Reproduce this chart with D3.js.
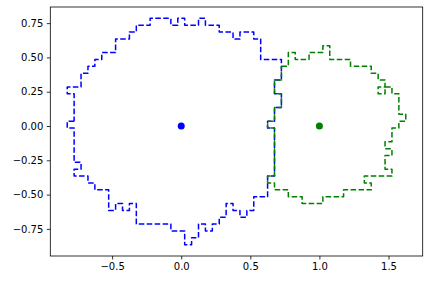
<!DOCTYPE html>
<html>
<head>
<meta charset="utf-8">
<script src="https://cdn.jsdelivr.net/npm/d3@7"></script>
<style>
  body { margin: 0; background: #fff; }
  svg text { font-family: "DejaVu Sans", sans-serif; font-size: 10px; fill: #000; }
</style>
</head>
<body>
<div id="chart"></div>
<script>
// step-shaped outlines (data units)
var blueOutline = [
  [-0.775, 0.035], [-0.825, 0.035], [-0.825, -0.015], [-0.775, -0.015],
  [-0.775, -0.265], [-0.725, -0.265], [-0.725, -0.315], [-0.775, -0.315],
  [-0.775, -0.365], [-0.675, -0.365], [-0.675, -0.415], [-0.625, -0.415],
  [-0.625, -0.465], [-0.525, -0.465], [-0.525, -0.615], [-0.475, -0.615],
  [-0.475, -0.565], [-0.425, -0.565], [-0.425, -0.615], [-0.375, -0.615],
  [-0.375, -0.565], [-0.325, -0.565], [-0.325, -0.715], [-0.075, -0.715],
  [-0.075, -0.765], [0.025, -0.765], [0.025, -0.865], [0.075, -0.865],
  [0.075, -0.815], [0.125, -0.815], [0.125, -0.715], [0.175, -0.715],
  [0.175, -0.765], [0.225, -0.765], [0.225, -0.715], [0.275, -0.715],
  [0.275, -0.665], [0.325, -0.665], [0.325, -0.565], [0.375, -0.565],
  [0.375, -0.615], [0.425, -0.615], [0.425, -0.665], [0.475, -0.665],
  [0.475, -0.615], [0.525, -0.615], [0.525, -0.515], [0.625, -0.515],
  [0.625, -0.365], [0.675, -0.365], [0.675, -0.015], [0.625, -0.015],
  [0.625, 0.035], [0.675, 0.035], [0.675, 0.135], [0.725, 0.135],
  [0.725, 0.235], [0.675, 0.235], [0.675, 0.335], [0.725, 0.335],
  [0.725, 0.485], [0.575, 0.485], [0.575, 0.635], [0.525, 0.635],
  [0.525, 0.685], [0.425, 0.685], [0.425, 0.635], [0.375, 0.635],
  [0.375, 0.685], [0.275, 0.685], [0.275, 0.735], [0.175, 0.735],
  [0.175, 0.785], [0.125, 0.785], [0.125, 0.735], [0.025, 0.735],
  [0.025, 0.785], [-0.025, 0.785], [-0.025, 0.735], [-0.075, 0.735],
  [-0.075, 0.785], [-0.225, 0.785], [-0.225, 0.735], [-0.325, 0.735],
  [-0.325, 0.685], [-0.375, 0.685], [-0.375, 0.635], [-0.475, 0.635],
  [-0.475, 0.535], [-0.575, 0.535], [-0.575, 0.485], [-0.625, 0.485],
  [-0.625, 0.435], [-0.675, 0.435], [-0.675, 0.385], [-0.725, 0.385],
  [-0.725, 0.285], [-0.825, 0.285], [-0.825, 0.235], [-0.775, 0.235],
  [-0.775, 0.035]
];

var greenOutline = [
  [0.725, 0.435], [0.775, 0.435], [0.775, 0.535], [0.825, 0.535],
  [0.825, 0.485], [0.925, 0.485], [0.925, 0.535], [1.025, 0.535],
  [1.025, 0.585], [1.075, 0.585], [1.075, 0.485], [1.225, 0.485],
  [1.225, 0.435], [1.375, 0.435], [1.375, 0.385], [1.425, 0.385],
  [1.425, 0.335], [1.475, 0.335], [1.475, 0.285], [1.425, 0.285],
  [1.425, 0.235], [1.475, 0.235], [1.475, 0.285], [1.525, 0.285],
  [1.525, 0.235], [1.575, 0.235], [1.575, 0.085], [1.625, 0.085],
  [1.625, 0.035], [1.575, 0.035], [1.575, -0.015], [1.525, -0.015],
  [1.525, -0.115], [1.475, -0.115], [1.475, -0.165], [1.525, -0.165],
  [1.525, -0.215], [1.475, -0.215], [1.475, -0.315], [1.525, -0.315],
  [1.525, -0.365], [1.325, -0.365], [1.325, -0.415], [1.375, -0.415],
  [1.375, -0.465], [1.175, -0.465], [1.175, -0.515], [1.025, -0.515],
  [1.025, -0.565], [0.875, -0.565], [0.875, -0.515], [0.775, -0.515],
  [0.775, -0.465], [0.675, -0.465], [0.675, -0.415], [0.625, -0.415],
  [0.625, -0.365], [0.675, -0.365], [0.675, -0.015], [0.625, -0.015],
  [0.625, 0.035], [0.675, 0.035], [0.675, 0.135], [0.725, 0.135],
  [0.725, 0.235], [0.675, 0.235], [0.675, 0.335], [0.725, 0.335],
  [0.725, 0.435]
];

var centers = [[0, 0], [1, 0]];
var colors = ["#0000ff", "#008000"];

var xTicks = [-0.5, 0, 0.5, 1, 1.5];
var yTicks = [-0.75, -0.5, -0.25, 0, 0.25, 0.5, 0.75];

var width = 429, height = 282;
var margin = {top: 7, right: 6.3, bottom: 26, left: 50.3};
var iw = width - margin.left - margin.right;
var ih = height - margin.top - margin.bottom;

// matplotlib style autoscale: data extent + 5% each side
var all = blueOutline.concat(greenOutline, centers);
function padded(ext) {
  var d = ext[1] - ext[0];
  return [ext[0] - 0.05 * d, ext[1] + 0.05 * d];
}
var x = d3.scaleLinear()
  .domain(padded(d3.extent(all, function(d) { return d[0]; })))
  .range([0, iw]);
var y = d3.scaleLinear()
  .domain(padded(d3.extent(all, function(d) { return d[1]; })))
  .range([ih, 0]);

var svg = d3.select("#chart").append("svg")
  .attr("width", width)
  .attr("height", height);

var g = svg.append("g")
  .attr("transform", "translate(" + margin.left + "," + margin.top + ")");

var fmt = function(d) { return d3.format(".1f")(d).replace("-", "\u2212"); };
var fmtY = function(d) { return d3.format(".2f")(d).replace("-", "\u2212"); };

var xAxis = g.append("g")
  .attr("transform", "translate(0," + ih + ")")
  .call(d3.axisBottom(x).tickValues(xTicks).tickFormat(fmt).tickSizeInner(3.5).tickSizeOuter(0).tickPadding(3.5));
var yAxis = g.append("g")
  .call(d3.axisLeft(y).tickValues(yTicks).tickFormat(fmtY).tickSizeInner(3.5).tickSizeOuter(0).tickPadding(3.5));

[xAxis, yAxis].forEach(function(a) {
  a.select(".domain").remove();
  a.selectAll("line").attr("stroke", "#000").attr("stroke-width", 0.8);
  a.selectAll("text").attr("font-family", "DejaVu Sans").attr("font-size", 10).attr("fill", "#000");
});

var line = d3.line()
  .x(function(d) { return x(d[0]); })
  .y(function(d) { return y(d[1]); });

var plot = g.append("g");

[blueOutline, greenOutline].forEach(function(pts, i) {
  plot.append("path")
    .attr("d", line(pts))
    .attr("fill", "none")
    .attr("stroke", colors[i])
    .attr("stroke-width", 1.5)
    .attr("stroke-dasharray", "5.55,2.4")
    .attr("stroke-linejoin", "round");

  plot.append("circle")
    .attr("cx", x(centers[i][0]))
    .attr("cy", y(centers[i][1]))
    .attr("r", 3.5)
    .attr("fill", colors[i]);
});

// frame
g.append("rect")
  .attr("width", iw)
  .attr("height", ih)
  .attr("fill", "none")
  .attr("stroke", "#000")
  .attr("stroke-width", 0.8);
</script>
</body>
</html>
